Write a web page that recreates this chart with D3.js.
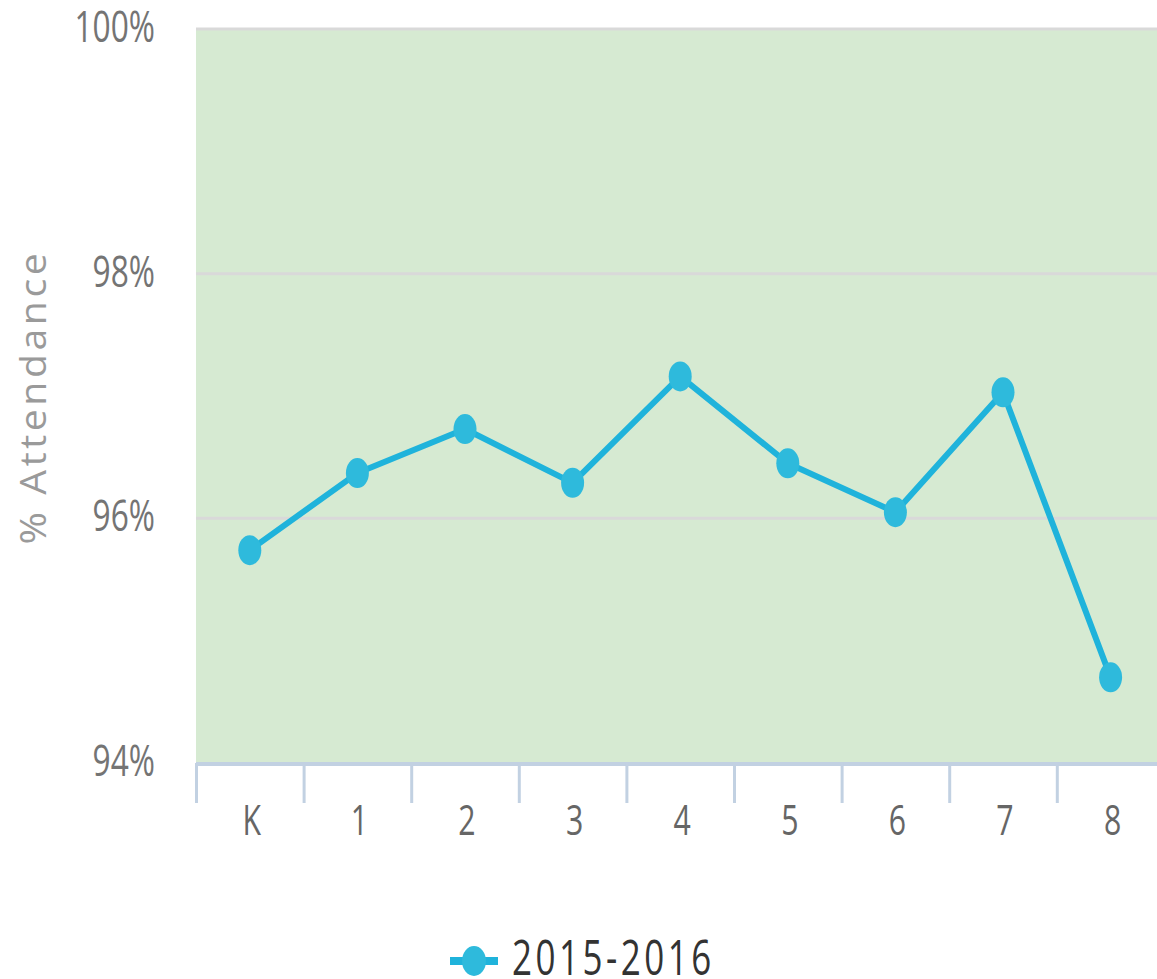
<!DOCTYPE html>
<html>
<head>
<meta charset="utf-8">
<script src="https://cdn.jsdelivr.net/npm/d3@7"></script>
<style>
  body { margin: 0; background: #fff; }
  text { font-family: "Open Sans", "DejaVu Sans", sans-serif; }
</style>
</head>
<body>
<svg id="chart"></svg>
<script>
// Chart data
var grades = ["K", "1", "2", "3", "4", "5", "6", "7", "8"];
var attendance = [95.74, 96.37, 96.73, 96.29, 97.16, 96.45, 96.05, 97.03, 94.70];
var yTicks = [94, 96, 98, 100];
var seriesName = "2015-2016";

const W = 1157, H = 979;
const plot = {left: 196, top: 29, bottom: 763, step: 107.6};

var svg = d3.select("#chart")
    .attr("width", W)
    .attr("height", H);

var x = d3.scaleBand()
    .domain(grades)
    .range([plot.left, plot.left + plot.step * grades.length])
    .padding(0);
var y = d3.scaleLinear()
    .domain([94, 100])
    .range([plot.bottom, plot.top]);

// plot background
svg.append("rect")
    .attr("x", plot.left)
    .attr("y", plot.top)
    .attr("width", W - plot.left)
    .attr("height", plot.bottom - plot.top)
    .attr("fill", "#d6ead2");

// grid lines
svg.append("g")
  .selectAll("line")
  .data(yTicks.filter(function(d) { return d > 94; }))
  .enter().append("line")
    .attr("x1", plot.left)
    .attr("x2", W)
    .attr("y1", function(d) { return y(d); })
    .attr("y2", function(d) { return y(d); })
    .attr("stroke", "#d9d9d9")
    .attr("stroke-width", 3);

// y tick labels (condensed look)
svg.append("g")
  .selectAll("text")
  .data(yTicks)
  .enter().append("text")
    .attr("transform", function(d) { return "translate(155," + (y(d) + 13) + ") scale(0.72,1)"; })
    .attr("text-anchor", "end")
    .attr("font-size", 44)
    .attr("fill", "#747474")
    .text(function(d) { return d + "%"; });

// y axis title
svg.append("text")
    .attr("transform", "translate(46,397) rotate(-90) scale(1.03,0.95)")
    .attr("text-anchor", "middle")
    .attr("font-size", 38)
    .attr("letter-spacing", 3.5)
    .attr("fill", "#9a9a9a")
    .text("% Attendance");

// x axis line
var xAxis = d3.axisBottom(x).tickSize(0).tickFormat("");
var gx = svg.append("g")
    .attr("transform", "translate(0," + (plot.bottom + 1) + ")")
    .call(xAxis);
gx.select(".domain").remove();
gx.append("line")
    .attr("x1", plot.left)
    .attr("x2", W)
    .attr("stroke", "#c2d1e2")
    .attr("stroke-width", 4);

// tick marks at band edges
svg.append("g")
  .selectAll("line")
  .data(grades)
  .enter().append("line")
    .attr("x1", function(d) { return x(d) + 0.5; })
    .attr("x2", function(d) { return x(d) + 0.5; })
    .attr("y1", plot.bottom)
    .attr("y2", plot.bottom + 40)
    .attr("stroke", "#c2d1e2")
    .attr("stroke-width", 3);

// x labels
svg.append("g")
  .selectAll("text")
  .data(grades)
  .enter().append("text")
    .attr("transform", function(d) { return "translate(" + (x(d) + x.bandwidth() / 2 + 2) + ",835) scale(0.72,1)"; })
    .attr("text-anchor", "middle")
    .attr("font-size", 42)
    .attr("fill", "#666")
    .text(function(d) { return d; });

// series line
var pts = grades.map(function(g, i) { return {g: g, v: attendance[i]}; });
var line = d3.line()
    .x(function(d) { return x(d.g) + x.bandwidth() / 2; })
    .y(function(d) { return y(d.v); });

svg.append("path")
    .datum(pts)
    .attr("d", line)
    .attr("fill", "none")
    .attr("stroke", "#1fb3db")
    .attr("stroke-width", 6)
    .attr("stroke-linejoin", "round");

svg.append("g")
  .selectAll("ellipse")
  .data(pts)
  .enter().append("ellipse")
    .attr("cx", function(d) { return x(d.g) + x.bandwidth() / 2; })
    .attr("cy", function(d) { return y(d.v); })
    .attr("rx", 11.5)
    .attr("ry", 15)
    .attr("fill", "#2ebadc");

// legend
var lg = svg.append("g").attr("transform", "translate(474,961)");
lg.append("line")
    .attr("x1", -24).attr("x2", 24)
    .attr("stroke", "#1fb3db")
    .attr("stroke-width", 8);
lg.append("ellipse")
    .attr("rx", 12).attr("ry", 15)
    .attr("fill", "#2ebadc");
lg.append("text")
    .attr("transform", "translate(38,14) scale(0.7,1)")
    .attr("font-size", 50)
    .attr("letter-spacing", 5)
    .attr("fill", "#333")
    .text(seriesName);
</script>
</body>
</html>
